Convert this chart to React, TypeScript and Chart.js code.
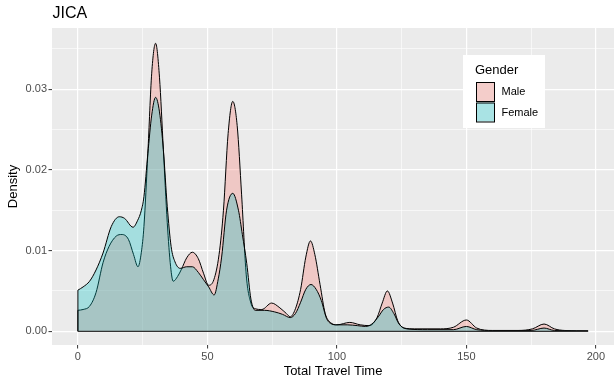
import React, { useEffect, useRef } from "react";
import { Chart, registerables } from "chart.js";

Chart.register(...registerables);

const chartTitle = "JICA";
const xAxisTitle = "Total Travel Time";
const yAxisTitle = "Density";
const legendTitle = "Gender";
const groupNames = ["Male", "Female"];

const xTickValues = [0, 25, 50, 75, 100, 125, 150, 175, 200];
const yTickValues = [0, 0.005, 0.01, 0.015, 0.02, 0.025, 0.03, 0.035];

// Kernel density estimates of total travel time, by gender
const maleTime = [
  0, 2, 4.5, 7, 9.7, 12, 14.8, 17, 19.5, 21.5, 23.2, 24.5, 25.5, 27, 28.5, 30,
  31.5, 33, 34.5, 35.8, 36.8, 38.5, 40, 42, 44.2, 46.5, 48.5, 50.5, 52.5, 54.5,
  56.2, 58, 59.8, 61.5, 63.2, 65, 66.8, 68.5, 71, 74.8, 78, 80.5, 82, 84, 86,
  88, 89.8, 91.5, 93.5, 95.5, 97.5, 100, 105, 109, 112.5, 115.5, 117.5, 119.5,
  121.5, 123.5, 126, 130, 140, 145, 150, 154, 160, 170, 175.5, 180, 184, 188,
  197,
];
const maleDensity = [
  0.0026, 0.0027, 0.0031, 0.0048, 0.0085, 0.0105, 0.0118, 0.012, 0.0114,
  0.0095, 0.008, 0.0098, 0.013, 0.022, 0.032, 0.0357, 0.0315, 0.0225, 0.0135,
  0.008, 0.0062, 0.0068, 0.0077, 0.0091, 0.0098, 0.009, 0.0072, 0.0057, 0.0064,
  0.0095, 0.015, 0.0245, 0.0285, 0.0255, 0.017, 0.007, 0.0035, 0.0028, 0.0027,
  0.0035, 0.0029, 0.0022, 0.0018, 0.0028, 0.0052, 0.0092, 0.0112, 0.0095,
  0.0058, 0.0022, 0.0011, 0.0008, 0.0011, 0.0008, 0.0007, 0.0017, 0.0035,
  0.005, 0.0035, 0.0013, 0.0004, 0.0003, 0.0003, 0.0005, 0.0014, 0.0004,
  0.0001, 0.0001, 0.0003, 0.0009, 0.0003, 0.0001, 0.00005,
];

const femaleTime = [
  0, 2, 4.5, 7, 9.7, 12.9, 16, 18, 21.3, 23, 24.5, 25.5, 27, 28.5, 30, 31.5, 33,
  34.5, 36, 37.5, 39.5, 42, 44.2, 46.5, 48.5, 50.5, 52.6, 54.2, 55.5, 57.4,
  59.8, 62, 63.5, 65.2, 66.8, 68.5, 72, 76, 79, 82, 84, 86, 88, 90, 92, 94, 96,
  98, 100, 104, 108, 111, 113.5, 116, 118, 120, 122, 124, 127, 135, 145, 150,
  154, 160, 175, 180, 184, 197,
];
const femaleDensity = [
  0.0051, 0.0055, 0.0062, 0.0076, 0.0097, 0.013, 0.0142, 0.014, 0.0129, 0.0137,
  0.015, 0.0167, 0.022, 0.0268, 0.029, 0.0272, 0.0225, 0.0155, 0.0105, 0.0086,
  0.0078, 0.008, 0.008, 0.0073, 0.0064, 0.0055, 0.0045, 0.0065, 0.0092, 0.015,
  0.0171, 0.015, 0.012, 0.0084, 0.004, 0.0026, 0.0026, 0.0024, 0.0021, 0.0017,
  0.0022, 0.0036, 0.0052, 0.0058, 0.0052, 0.0038, 0.0016, 0.0009, 0.0008,
  0.0008, 0.0007, 0.0006, 0.0009, 0.0018, 0.0027, 0.003, 0.0022, 0.0009,
  0.0003, 0.0002, 0.0002, 0.0006, 0.0002, 0.0001, 0.0001, 0.0004, 0.0001,
  0.00005,
];

const FONT = '"Liberation Sans", Arial, Helvetica, sans-serif';
const PANEL_BG = "#EBEBEB";
const MALE_FILL = "rgba(248,118,109,0.3)";
const FEMALE_FILL = "rgba(0,191,196,0.3)";
const groupFills = [MALE_FILL, FEMALE_FILL];

const isMajorX = (v: number) => Math.abs(v % 50) < 1e-9;
const isMajorY = (v: number) => Math.abs(v * 100 - Math.round(v * 100)) < 1e-9;

const toPoints = (xs: number[], ys: number[]) =>
  xs.map((x, i) => ({ x, y: ys[i] }));

// Panel background and white page, drawn under the grid
const panelPlugin = {
  id: "panel",
  beforeDraw(chart: any) {
    const { ctx, chartArea, width, height } = chart;
    ctx.save();
    ctx.fillStyle = "#FFFFFF";
    ctx.fillRect(0, 0, width, height);
    ctx.fillStyle = PANEL_BG;
    ctx.fillRect(
      chartArea.left,
      chartArea.top,
      chartArea.right - chartArea.left,
      chartArea.bottom - chartArea.top
    );
    ctx.restore();
  },
};

// Plot title plus the legend box inside the panel
const decorPlugin = {
  id: "decor",
  afterDraw(chart: any) {
    const { ctx, chartArea } = chart;
    ctx.save();
    ctx.textBaseline = "middle";
    ctx.textAlign = "left";
    ctx.fillStyle = "#000000";
    ctx.font = `16px ${FONT}`;
    ctx.fillText(chartTitle, chartArea.left + 0.5, 14);

    const lx = 463;
    const ly = 55;
    ctx.fillStyle = "#FFFFFF";
    ctx.fillRect(lx, ly, 82, 73);
    ctx.fillStyle = "#000000";
    ctx.font = `13px ${FONT}`;
    ctx.fillText(legendTitle, lx + 12, ly + 15);

    groupNames.forEach((name, i) => {
      const kx = lx + 13;
      const ky = ly + 27 + i * 20.5;
      ctx.fillStyle = "#F2F2F2";
      ctx.fillRect(kx, ky, 18, 19);
      ctx.fillStyle = groupFills[i];
      ctx.fillRect(kx, ky, 18, 19);
      ctx.strokeStyle = "#000000";
      ctx.lineWidth = 1;
      ctx.strokeRect(kx + 0.5, ky + 0.5, 18, 19);
      ctx.fillStyle = "#000000";
      ctx.font = `11px ${FONT}`;
      ctx.fillText(name, lx + 38.5, ky + 10);
    });
    ctx.restore();
  },
};

export default function App() {
  const canvasRef = useRef<HTMLCanvasElement | null>(null);

  useEffect(() => {
    const canvas = canvasRef.current;
    if (!canvas) return;
    Chart.defaults.font.family = FONT;

    const lastT = maleTime[maleTime.length - 1];

    const chart = new Chart(canvas, {
      type: "line",
      data: {
        datasets: [
          {
            label: "baseline",
            data: [
              { x: maleTime[0], y: 0 },
              { x: lastT, y: 0 },
            ],
            borderColor: "#333333",
            borderWidth: 1.2,
            pointRadius: 0,
            fill: false,
            tension: 0,
            order: -1,
          },
          {
            label: "Female edge",
            data: [
              { x: femaleTime[0], y: 0 },
              { x: femaleTime[0], y: femaleDensity[0] },
            ],
            borderColor: "#000000",
            borderWidth: 1,
            pointRadius: 0,
            fill: false,
            tension: 0,
            order: 0,
          },
          {
            label: groupNames[1],
            data: toPoints(femaleTime, femaleDensity),
            borderColor: "#000000",
            borderWidth: 1,
            backgroundColor: FEMALE_FILL,
            fill: "origin",
            pointRadius: 0,
            cubicInterpolationMode: "monotone",
            order: 1,
          },
          {
            label: "Male edge",
            data: [
              { x: maleTime[0], y: 0 },
              { x: maleTime[0], y: maleDensity[0] },
            ],
            borderColor: "#000000",
            borderWidth: 1,
            pointRadius: 0,
            fill: false,
            tension: 0,
            order: 2,
          },
          {
            label: groupNames[0],
            data: toPoints(maleTime, maleDensity),
            borderColor: "#000000",
            borderWidth: 1,
            backgroundColor: MALE_FILL,
            fill: "origin",
            pointRadius: 0,
            cubicInterpolationMode: "monotone",
            order: 3,
          },
        ],
      },
      options: {
        animation: false,
        responsive: false,
        devicePixelRatio: 1,
        events: [],
        layout: { padding: { top: 28, left: 0, right: 0, bottom: 0 } },
        plugins: {
          legend: { display: false },
          title: { display: false },
          tooltip: { enabled: false },
        },
        scales: {
          x: {
            type: "linear",
            min: -10,
            max: 207,
            afterBuildTicks: (s: any) => {
              s.ticks = xTickValues.map((v) => ({ value: v }));
            },
            afterFit: (s: any) => {
              s.height = 35;
            },
            border: { display: false },
            grid: {
              color: "#FFFFFF",
              lineWidth: (c: any) =>
                c.tick && isMajorX(c.tick.value) ? 1.2 : 0.6,
              tickColor: (c: any) =>
                c.tick && isMajorX(c.tick.value) ? "#333333" : "rgba(0,0,0,0)",
              tickWidth: 1,
              tickLength: 3.5,
              drawTicks: true,
            },
            ticks: {
              autoSkip: false,
              maxRotation: 0,
              color: "#4D4D4D",
              font: { size: 11 },
              padding: 2,
              callback: (v: any) => (isMajorX(Number(v)) ? String(v) : ""),
            },
            title: {
              display: true,
              text: xAxisTitle,
              color: "#000000",
              font: { size: 13 },
              padding: { top: 0, bottom: 1 },
            },
          },
          y: {
            type: "linear",
            min: -0.0017,
            max: 0.0376,
            afterBuildTicks: (s: any) => {
              s.ticks = yTickValues.map((v) => ({ value: v }));
            },
            afterFit: (s: any) => {
              s.width = 52;
            },
            border: { display: false },
            grid: {
              color: "#FFFFFF",
              lineWidth: (c: any) =>
                c.tick && isMajorY(c.tick.value) ? 1.2 : 0.6,
              tickColor: (c: any) =>
                c.tick && isMajorY(c.tick.value) ? "#333333" : "rgba(0,0,0,0)",
              tickWidth: 1,
              tickLength: 3.5,
              drawTicks: true,
            },
            ticks: {
              autoSkip: false,
              color: "#4D4D4D",
              font: { size: 11 },
              padding: 1.5,
              callback: (v: any) =>
                isMajorY(Number(v)) ? Number(v).toFixed(2) : "",
            },
            title: {
              display: true,
              text: yAxisTitle,
              color: "#000000",
              font: { size: 13 },
              padding: { top: 6, bottom: 0 },
            },
          },
        },
      },
      plugins: [panelPlugin, decorPlugin],
    } as any);

    return () => chart.destroy();
  }, []);

  return (
    <div style={{ position: "absolute", left: 0, top: 0, width: 614, height: 380 }}>
      <canvas
        ref={canvasRef}
        width={614}
        height={380}
        style={{ display: "block", width: 614, height: 380 }}
      />
    </div>
  );
}
